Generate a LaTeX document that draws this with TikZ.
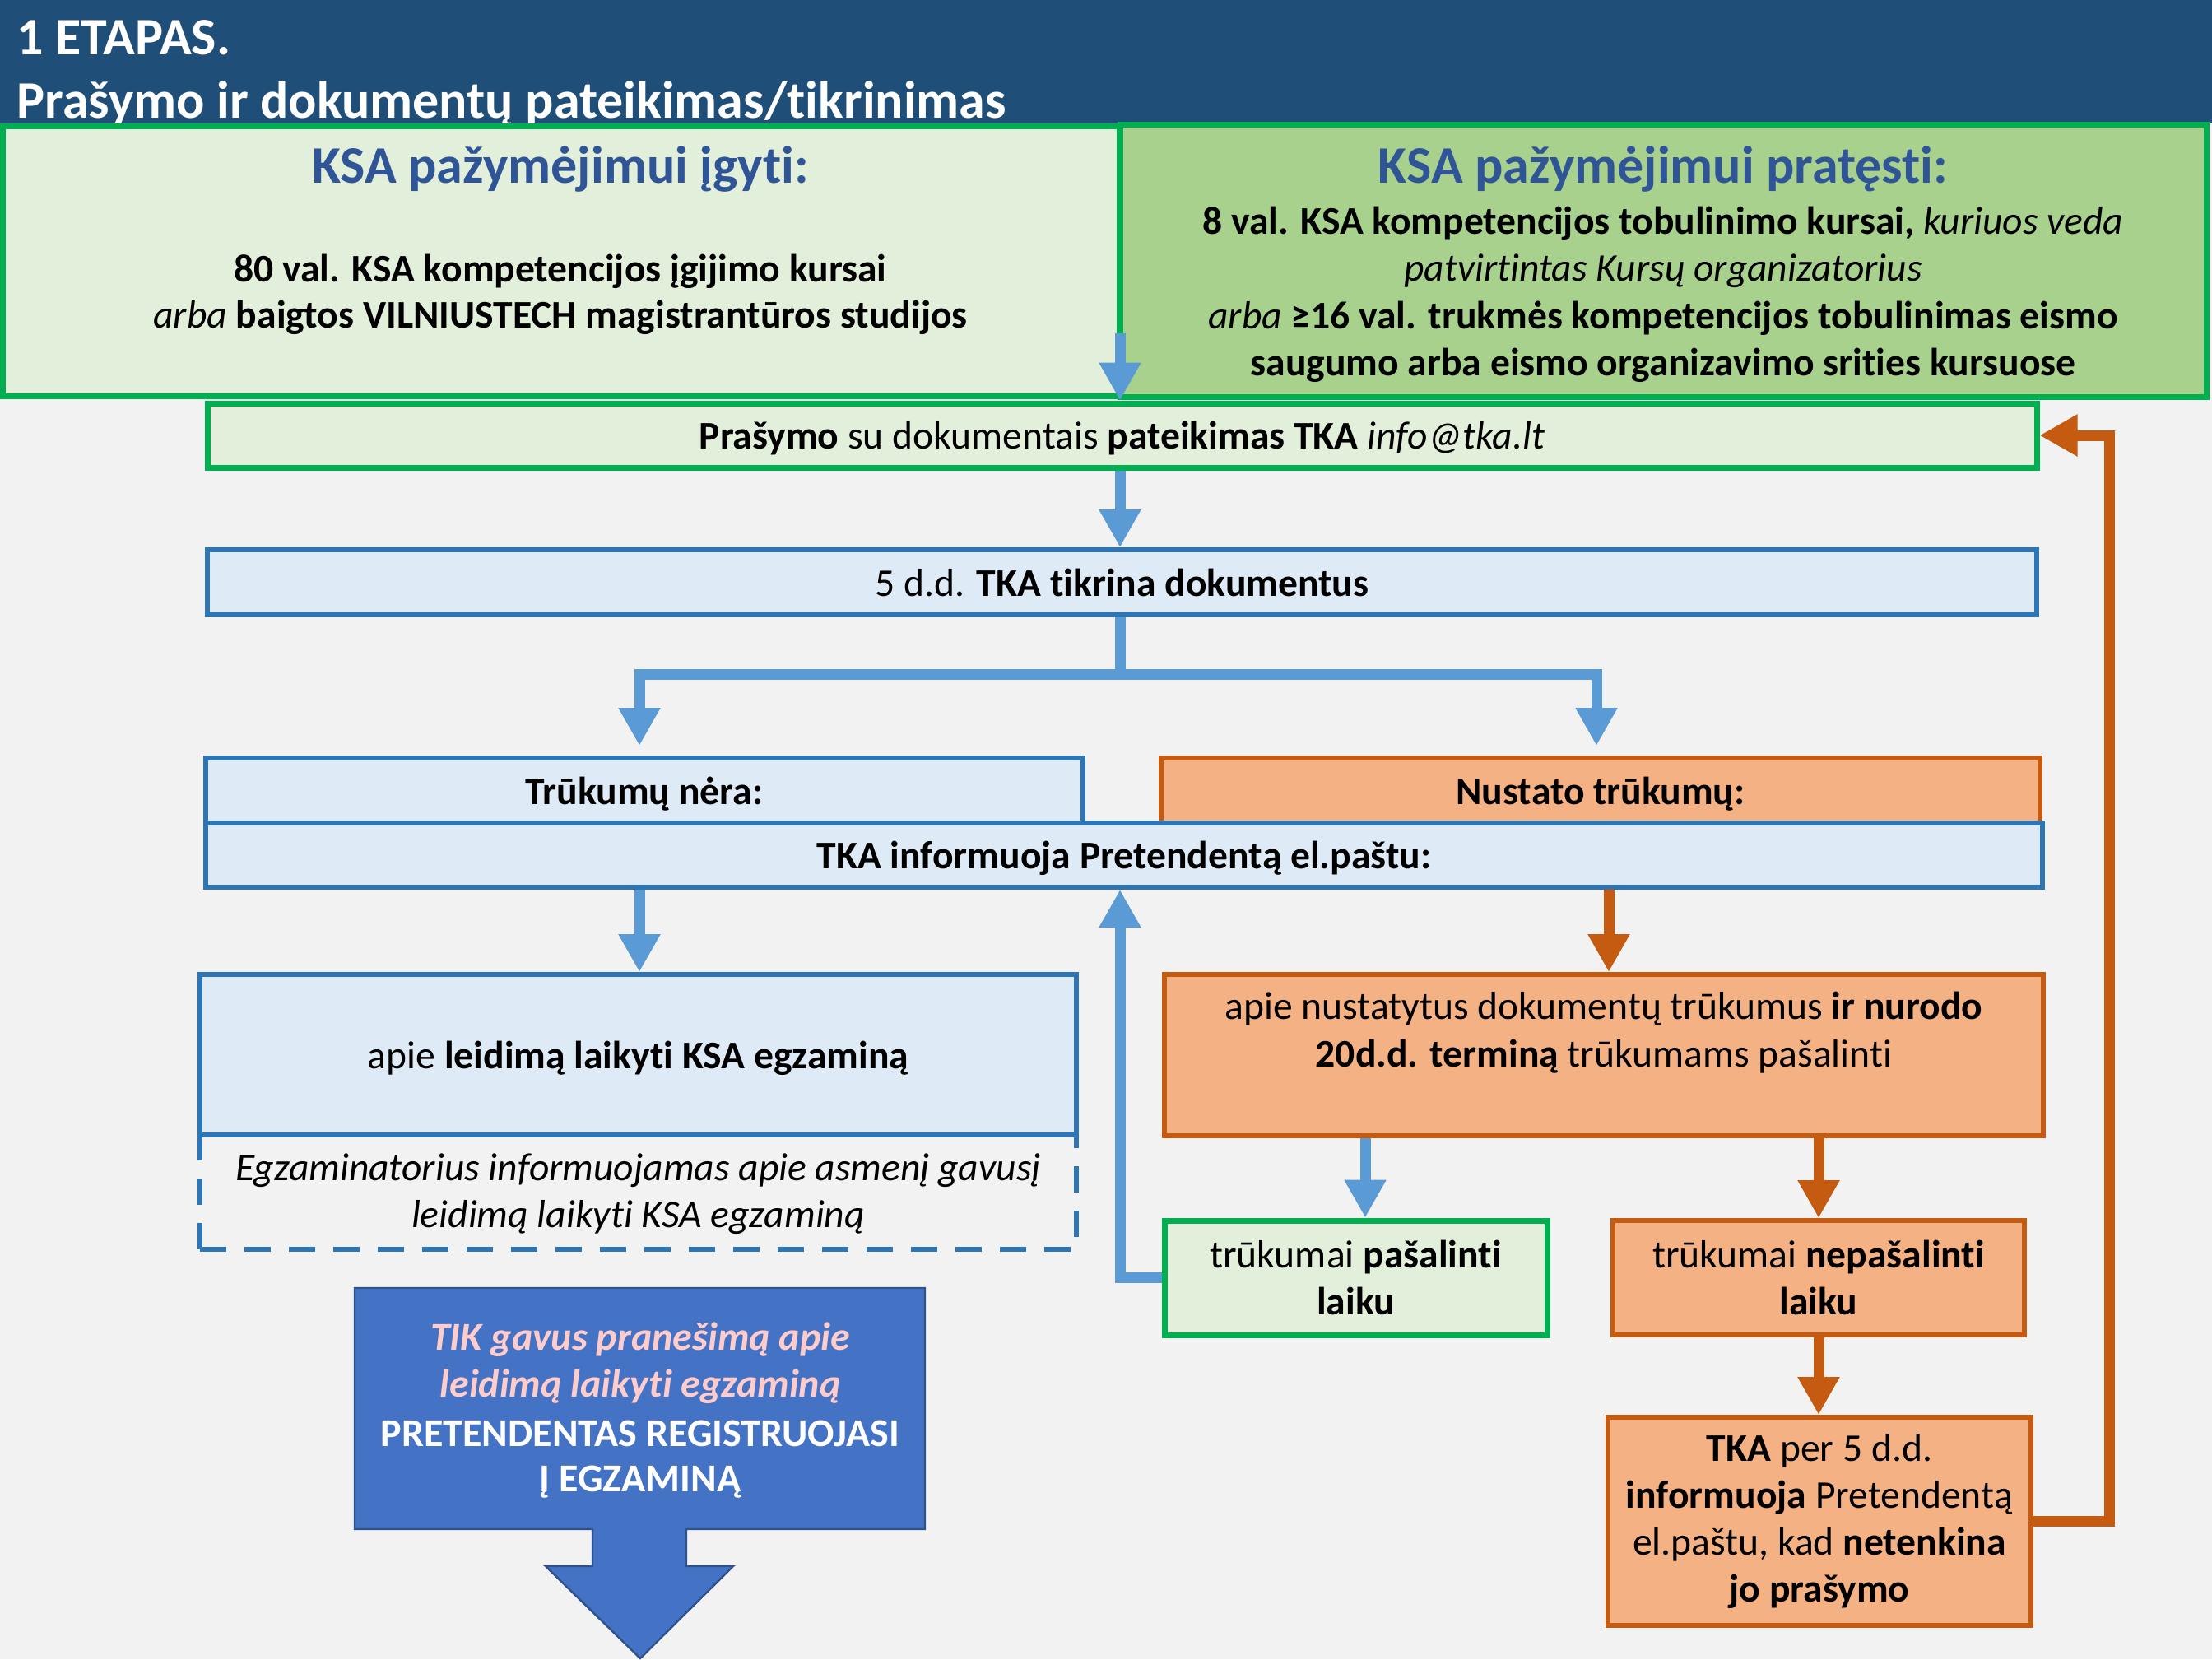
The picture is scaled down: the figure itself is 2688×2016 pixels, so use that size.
\documentclass[tikz,border=0pt]{standalone}
\usepackage{fontspec}
\setmainfont{Carlito}[Ligatures=CommonOff]
\usetikzlibrary{arrows.meta}
\definecolor{bgc}{HTML}{F2F2F2}
\definecolor{hdr}{HTML}{1F4E79}
\definecolor{grn}{HTML}{00B050}
\definecolor{lgrn}{HTML}{E2EFDA}
\definecolor{mgrn}{HTML}{A9D18E}
\definecolor{ttl}{HTML}{2F5597}
\definecolor{bbd}{HTML}{2E75B6}
\definecolor{lbl}{HTML}{DEEBF7}
\definecolor{obd}{HTML}{C55A11}
\definecolor{ofl}{HTML}{F4B183}
\definecolor{bcn}{HTML}{5B9BD5}
\definecolor{ocn}{HTML}{C55A11}
\definecolor{cfill}{HTML}{4472C4}
\definecolor{cbord}{HTML}{2F528F}
\definecolor{pink}{HTML}{FFCCCC}
\newcommand\fsz[2]{\fontsize{#1}{#2}\selectfont}
\begin{document}
\begin{tikzpicture}[x=0.25pt,y=-0.25pt,
  box/.style={draw, line width=1.5pt, inner sep=0pt, align=center, font=\fsz{11.9}{14.3}},
  oneline/.style={text height=8.4pt, text depth=0pt},
  gbox/.style={box, draw=grn, fill=lgrn, line width=1.75pt},
  bbox/.style={box, draw=bbd, fill=lbl},
  obox/.style={box, draw=obd, fill=ofl},
  conn/.style={line width=3.25pt},
  atip/.style={-{Triangle[width=12pt,length=11.5pt]}},
  bcon/.style={conn, draw=bcn, atip},
  ocon/.style={conn, draw=ocn, atip},
  txt/.style={anchor=base, inner sep=0pt, font=\fsz{11.9}{14.3}},
  hdrtxt/.style={txt, anchor=base west, text=white, font=\bfseries\fsz{16}{17}},
  ttltxt/.style={txt, text=ttl, font=\bfseries\fsz{16}{18}},
  pinktxt/.style={txt, text=pink, font=\bfseries\itshape\fsz{12}{14}},
  whitetxt/.style={txt, text=white, font=\bfseries\fsz{12}{14}},
]
\useasboundingbox (0,0) rectangle (2688,2016);
\fill[bgc] (0,0) rectangle (2688,2016);
% header
\fill[hdr] (0,0) rectangle (2688,150);
\node[hdrtxt] (h1) at (20,66) {1 ETAPAS.};
\node[hdrtxt] (h2) at (20,143) {Prašymo ir dokumentų pateikimas/tikrinimas};

% coordinates for vertical connector lines
\coordinate (xm) at (1361,0);
\coordinate (xl) at (777,0);
\coordinate (xo) at (1955,0);
\coordinate (xp) at (1659,0);
\coordinate (xn) at (2210,0);
\coordinate (xret) at (2563,0);

% top boxes
\node[gbox, minimum width=339.25pt, minimum height=82pt] (ksaL) at (681.5,317) {};
\node[gbox, fill=mgrn, minimum width=330pt, minimum height=82.75pt] (ksaR) at (2021,316.5) {};
\node[ttltxt] (tL) at (681,222) {KSA pažymėjimui įgyti:};
\node[txt] (bL1) at (681,342) {\bfseries 80 val. KSA kompetencijos įgijimo kursai};
\node[txt] (bL2) at (681,398) {\textit{arba} \textbf{baigtos VILNIUSTECH magistrantūros studijos}};
\node[ttltxt] (tR) at (2021,222) {KSA pažymėjimui pratęsti:};
\node[txt] (bR1) at (2021,284) {\textbf{8 val. KSA kompetencijos tobulinimo kursai,} \textit{kuriuos veda}};
\node[txt] (bR2) at (2021,341) {\textit{patvirtintas Kursų organizatorius}};
\node[txt] (bR3) at (2021,399) {\textit{arba} \textbf{≥16 val. trukmės kompetencijos tobulinimas eismo}};
\node[txt] (bR4) at (2021,456) {\textbf{saugumo arba eismo organizavimo srities kursuose}};

% request / check
\node[gbox, oneline, minimum width=555.75pt, minimum height=19.5pt] (pras) at (1363.5,529)
  {\textbf{Prašymo} su dokumentais \textbf{pateikimas TKA} \textit{info@tka.lt}};
\node[bbox, oneline, minimum width=555.75pt, minimum height=19.75pt] (tikr) at (1363.5,707.5)
  {5 d.d. \textbf{TKA tikrina dokumentus}};

% branches
\node[bbox, oneline, minimum width=266.5pt, minimum height=19.75pt] (nera) at (783,960.5) {\textbf{Trūkumų nėra:}};
\node[obox, oneline, minimum width=267pt, minimum height=19.75pt] (nust) at (1945,960.5) {\textbf{Nustato trūkumų:}};
\node[bbox, oneline, minimum width=558pt, minimum height=19.5pt] (info) at (1366,1039) {\textbf{TKA informuoja Pretendentą el.paštu:}};

% left column
\node[bbox, oneline, minimum width=266.25pt, minimum height=48.75pt] (leid) at (775.5,1281.5)
  {apie \textbf{leidimą laikyti KSA egzaminą}};
\node[box, draw=bbd, dashed, dash pattern=on 8pt off 5.5pt, minimum width=266.25pt, minimum height=34.75pt] (egz) at (775.5,1448.5) {};
\node[txt] (e1) at (775.5,1434) {\itshape Egzaminatorius informuojamas apie asmenį gavusį};
\node[txt] (e2) at (775.5,1491) {\itshape leidimą laikyti KSA egzaminą};

% right column
\node[obox, minimum width=267pt, minimum height=49pt] (nurodo) at (1949,1282) {};
\node[txt] (n1) at (1949,1238) {apie nustatytus dokumentų trūkumus \textbf{ir nurodo}};
\node[txt] (n2) at (1949,1296) {\textbf{20d.d. terminą} trūkumams pašalinti};
\node[gbox, minimum width=116.25pt, minimum height=34.75pt] (pasal) at (1647.5,1552.5)
  {trūkumai \textbf{pašalinti}\\ \textbf{laiku}};
\node[obox, minimum width=125pt, minimum height=34.75pt] (nepas) at (2210,1552.5)
  {trūkumai \textbf{nepašalinti}\\ \textbf{laiku}};
\node[obox, minimum width=128.5pt, minimum height=63.25pt] (tka5) at (2211,1848.5)
  {\textbf{TKA} per 5 d.d.\\ \textbf{informuoja} Pretendentą\\ el.paštu, kad \textbf{netenkina}\\ \textbf{jo prašymo}};

% callout arrow
\draw[fill=cfill, draw=cbord, line width=0.6pt, line join=miter]
  (431,1565) -- (1124,1565) -- (1124,1858) -- (834,1858) -- (834,1903) -- (891,1903)
  -- (778,2015) -- (663,1903) -- (720,1903) -- (720,1858) -- (431,1858) -- cycle;
\node[pinktxt] (c1) at (778,1640) {TIK gavus pranešimą apie};
\node[pinktxt] (c2) at (778,1697) {leidimą laikyti egzaminą};
\node[whitetxt] (c3) at (778,1757) {PRETENDENTAS REGISTRUOJASI};
\node[whitetxt] (c4) at (778,1812) {Į EGZAMINĄ};

% connectors
\coordinate (s1) at (1361,405);
\draw[bcon] (s1) -- (s1 |- pras.north);
\draw[bcon] (pras.south -| xm) -- (tikr.north -| xm);
\coordinate (brl) at (777,819);
\coordinate (brr) at (1940,819);
\draw[bcon, shorten >=3pt] (tikr.south -| xm) |- (brl) -- (brl |- nera.north);
\draw[bcon, shorten >=3pt] (tikr.south -| xm) |- (brr) -- (brr |- nust.north);
\draw[bcon] (info.south -| xl) -- (leid.north -| xl);
\draw[ocon] (info.south -| xo) -- (nurodo.north -| xo);
\draw[bcon] (nurodo.south -| xp) -- (pasal.north -| xp);
\draw[ocon] (nurodo.south -| xn) -- (nepas.north -| xn);
\draw[ocon] (nepas.south -| xn) -- (tka5.north -| xn);
\draw[bcon] (pasal.west) -| (info.south -| xm);
\draw[ocon] (tka5.east) -| (pras.east -| xret) -- (pras.east);
\end{tikzpicture}
\end{document}
